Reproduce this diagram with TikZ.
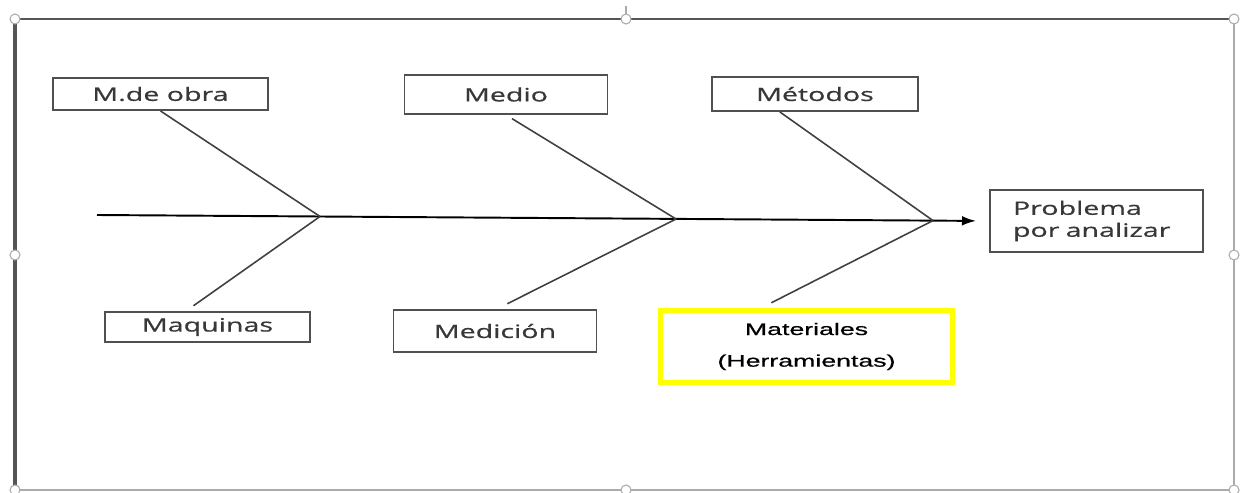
\documentclass[tikz,border=0pt]{standalone}
\usepackage{fontspec}
\setmainfont{Open Sans}[FakeStretch=1.55, FakeBold=0.6]
\newfontfamily\matfont{Liberation Sans}[FakeStretch=1.6, FakeBold=0.6]
\usepackage{tikz}
\usetikzlibrary{arrows.meta}
\definecolor{BoxGray}{HTML}{505050}
\definecolor{TextGray}{HTML}{383838}
\definecolor{FrameGray}{HTML}{555555}
\definecolor{FrameLight}{HTML}{ABABAB}
\definecolor{MarkYellow}{HTML}{FFFF00}

\tikzset{
  causa/.style={draw=BoxGray, line width=1.1pt, rectangle, inner sep=0pt, text=TextGray, font=\fontsize{10.5}{12}\selectfont},
  espina/.style={draw=black!75, line width=0.9pt},
  asa/.style={draw=FrameLight, fill=white, line width=0.6pt},
}

\begin{document}
\begin{tikzpicture}[x=0.02cm, y=-0.02cm]
    \useasboundingbox (0,0) rectangle (1243,493);

    % marco
    \draw[FrameLight, line width=1.4pt] (1234,19) -- (1234,490) -- (15,490);
    \draw[FrameGray, line width=1.6pt] (15,19) -- (1234,19);
    \draw[FrameGray, line width=2.2pt] (15,19) -- (15,490);
    \draw[FrameLight, line width=1pt] (626,19) -- (626,6);
    \foreach \hx/\hy in {15/19, 626/19, 1234/19, 15/255, 1234/255, 15/490, 626/490, 1234/490}
        \draw[asa] (\hx,\hy) circle[radius=0.1cm];

    % causas
    \node[causa, minimum width=4.3cm, minimum height=0.64cm] (obra) at (160.5,94) {M.de obra};
    \node[causa, minimum width=4.06cm, minimum height=0.78cm] (medio) at (506,94.5) {Medio};
    \node[causa, minimum width=4.12cm, minimum height=0.68cm] (metodos) at (815,94) {Métodos};
    \node[causa, minimum width=4.1cm, minimum height=0.6cm] (maquinas) at (207.5,327) {Maquinas};
    \node[causa, minimum width=4.06cm, minimum height=0.84cm] (medicion) at (495,331) {Medición};
    \node[causa, draw=MarkYellow, line width=2.8pt, minimum width=5.84cm, minimum height=1.44cm, align=center,
          text=black, font=\matfont\fontsize{9.5}{18}\selectfont] (materiales) at (806.5,346.5) {Materiales\\(Herramientas)};
    \node[causa, minimum width=4.26cm, minimum height=1.24cm, align=left, text width=3.34cm, inner xsep=0.46cm,
          font=\fontsize{10.5}{12.5}\selectfont] (problema) at (1096.5,221) {Problema\\por analizar};

    % espina central
    \coordinate (cola) at (97,215);
    \coordinate (j1) at (320,216.5);
    \coordinate (j2) at (676,219);
    \coordinate (j3) at (933,220.6);
    \draw[-{Latex[length=8pt, width=5.5pt]}, line width=1.1pt, shorten >=7.4pt] (cola) -- (problema.west);

    % espinas
    \draw[espina] (obra.south) -- (j1);
    \draw[espina] (j1) -- ([xshift=-8pt, yshift=3pt]maquinas.north);
    \draw[espina, shorten <=4pt] (medio.south) -- (j2);
    \draw[espina] (j2) -- ([xshift=7pt, yshift=3pt]medicion.north);
    \draw[espina] ([xshift=-20pt]metodos.south) -- (j3);
    \draw[espina] (j3) -- ([xshift=-20pt, yshift=3pt]materiales.north);
\end{tikzpicture}
\end{document}
